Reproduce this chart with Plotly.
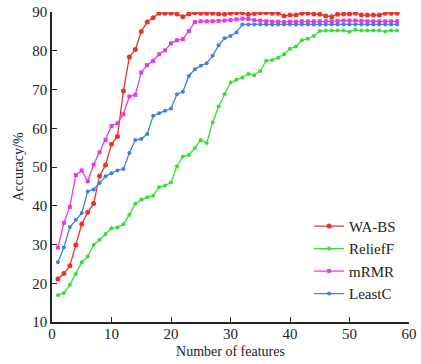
import plotly.graph_objects as go

features = list(range(1, 59))

wa_bs = [21.1, 22.5, 24.5, 29.9, 35.3, 38.3, 40.6, 47.7, 50.5, 55.9,
         57.9, 69.6, 78.4, 80.3, 85.0, 87.4, 88.5, 89.7, 89.7, 89.7,
         89.5, 88.8, 89.5, 89.8, 89.7, 89.7, 89.7, 89.5, 89.4, 89.7,
         89.8, 89.8, 89.4, 89.6, 89.8, 89.8, 89.7, 89.7, 89.0, 89.2,
         89.2, 89.7, 89.7, 89.5, 89.4, 89.0, 88.8, 89.4, 89.5, 89.5,
         89.7, 89.2, 89.2, 89.2, 89.2, 89.7, 89.7, 89.7]

relieff = [16.9, 17.5, 19.6, 22.4, 25.4, 26.9, 29.9, 31.2, 32.7, 34.2,
           34.4, 35.2, 37.7, 40.5, 41.6, 42.2, 42.6, 44.8, 45.2, 46.0,
           50.2, 52.7, 53.1, 54.9, 57.0, 56.2, 61.5, 65.6, 68.8, 71.8,
           72.5, 73.1, 74.0, 73.7, 74.8, 77.4, 77.6, 78.2, 79.1, 80.5,
           81.1, 82.7, 83.1, 83.8, 85.1, 85.2, 85.2, 85.2, 85.2, 84.9,
           85.4, 85.2, 85.2, 85.2, 85.2, 85.0, 85.2, 85.2]

mrmr = [29.2, 35.6, 39.7, 47.9, 49.1, 46.3, 50.6, 53.8, 57.0, 60.6,
        61.3, 63.6, 68.2, 68.6, 74.4, 76.3, 77.4, 79.1, 80.1, 81.9,
        82.7, 83.0, 85.1, 87.4, 87.6, 87.6, 87.6, 87.7, 87.8, 87.9,
        88.1, 88.3, 88.2, 87.9, 87.8, 87.6, 87.5, 87.5, 87.4, 87.5,
        87.5, 87.6, 87.6, 87.6, 87.6, 87.6, 87.6, 87.7, 87.8, 87.8,
        87.8, 87.7, 87.6, 87.6, 87.6, 87.6, 87.6, 87.6]

leastc = [25.4, 29.2, 34.5, 36.4, 38.1, 43.7, 44.2, 45.9, 47.6, 48.4,
          49.1, 49.5, 53.6, 57.0, 57.2, 58.5, 63.2, 63.9, 64.5, 65.1,
          68.8, 69.4, 73.5, 75.2, 76.1, 76.8, 78.7, 81.4, 83.2, 83.8,
          84.7, 86.8, 86.8, 86.8, 86.8, 86.8, 86.8, 86.8, 86.8, 86.8,
          86.8, 86.8, 86.8, 86.8, 86.8, 86.8, 86.8, 86.8, 86.8, 86.8,
          86.8, 86.8, 86.8, 86.8, 86.8, 86.8, 86.8, 86.8]

series = [
    ("WA-BS", wa_bs, "#e8332c", "circle", 5),
    ("ReliefF", relieff, "#35e035", "circle", 4),
    ("mRMR", mrmr, "#e03ce0", "square", 4),
    ("LeastC", leastc, "#4080e0", "circle", 4),
]

FONT = "Liberation Serif"

fig = go.Figure()
for name, vals, color, sym, sz in series:
    fig.add_trace(go.Scatter(
        x=features, y=vals, name=name, mode="lines+markers",
        line=dict(color=color, width=1.3),
        marker=dict(color=color, symbol=sym, size=sz),
    ))

axis_common = dict(
    showline=True, linecolor="#222", linewidth=1.5,
    ticks="inside", ticklen=5, tickwidth=1.3, tickcolor="#222",
    showgrid=False, zeroline=False, ticklabeloverflow="allow",
    tickfont=dict(family=FONT, size=15, color="#222"),
)

fig.update_layout(
    width=421, height=364,
    margin=dict(l=52, r=4, t=11, b=42),
    paper_bgcolor="white", plot_bgcolor="white",
    font=dict(family=FONT, size=14, color="#222"),
    xaxis=dict(range=[0, 60], tickvals=[0, 10, 20, 30, 40, 50, 60],
               ticklabelstandoff=-3,
               title=dict(text="Number of features", font=dict(family=FONT, size=14), standoff=5),
               **axis_common),
    yaxis=dict(range=[10, 90], tickvals=[10, 20, 30, 40, 50, 60, 70, 80, 90],
               title=dict(text="Accuracy/%", font=dict(family=FONT, size=14), standoff=5),
               **axis_common),
    legend=dict(x=0.72, y=0.362, xanchor="left", yanchor="top",
                font=dict(family=FONT, size=15, color="#222"),
                bgcolor="rgba(0,0,0,0)", tracegroupgap=0),
    showlegend=True,
)

fig.write_html("out.html")
